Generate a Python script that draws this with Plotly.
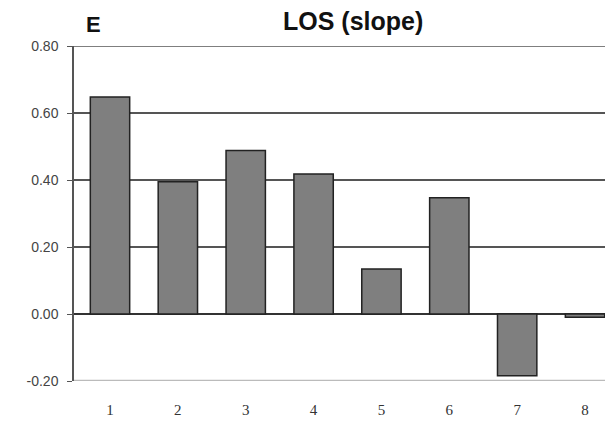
import plotly.graph_objects as go

categories = ["1", "2", "3", "4", "5", "6", "7", "8"]
values = [0.648, 0.395, 0.488, 0.418, 0.134, 0.347, -0.184, -0.010]
y_ticks = [-0.2, 0.0, 0.2, 0.4, 0.6, 0.8]
y_labels = ["-0.20", "0.00", "0.20", "0.40", "0.60", "0.80"]

x_pos = list(range(1, len(categories) + 1))

W, H = 613, 425
L, R, T, B = 66, 0, 38, 52
PW, PH = W - L - R, H - T - B

fig = go.Figure()
fig.add_trace(go.Bar(
    x=x_pos, y=values,
    width=0.58,
    marker=dict(color="#7f7f7f", line=dict(color="#222222", width=1.5)),
))

fig.update_layout(
    width=W, height=H,
    margin=dict(l=L, r=R, t=T, b=B, autoexpand=False),
    paper_bgcolor="white", plot_bgcolor="white",
    showlegend=False,
)
fig.add_annotation(text="<b>LOS (slope)</b>", x=(345 - L) / PW, y=1 + (T - 13) / PH,
                   xref="paper", yref="paper", showarrow=False, xanchor="center", yanchor="middle",
                   font=dict(family="Liberation Sans, Arial", size=25, color="#111111"))
fig.add_annotation(text="<b>E</b>", x=(85 - L) / PW, y=1 + (T - 17) / PH,
                   xref="paper", yref="paper", showarrow=False, xanchor="center", yanchor="middle",
                   font=dict(family="Liberation Sans, Arial", size=22, color="#111111"))

fig.update_xaxes(
    range=[0.4695, 8.53],
    tickmode="array", tickvals=x_pos, ticktext=categories,
    showgrid=False, zeroline=False, showline=False, ticks="",
    tickfont=dict(family="Liberation Serif, Times New Roman", size=15, color="#333333"),
    ticklabelstandoff=18,
)
fig.update_yaxes(
    range=[-0.2, 0.8],
    tickmode="array", tickvals=y_ticks, ticktext=y_labels,
    showgrid=True, gridcolor="#555555", gridwidth=1.5,
    zeroline=True, zerolinecolor="#333333", zerolinewidth=1.5,
    showline=True, linecolor="#555555", linewidth=1.5,
    ticks="outside", ticklen=5, tickcolor="#555555",
    tickfont=dict(family="Liberation Sans, Arial", size=14, color="#444444"),
    ticklabelstandoff=6,
)
# top gridline at 0.80 and light bottom line at -0.20
fig.add_shape(type="line", xref="paper", yref="y", x0=0, x1=1, y0=0.8, y1=0.8,
              line=dict(color="#555555", width=1.5), layer="below")
fig.add_shape(type="line", xref="paper", yref="y", x0=0, x1=1, y0=-0.2, y1=-0.2,
              line=dict(color="#bbbbbb", width=2.5), layer="above")

fig.write_html("out.html")
